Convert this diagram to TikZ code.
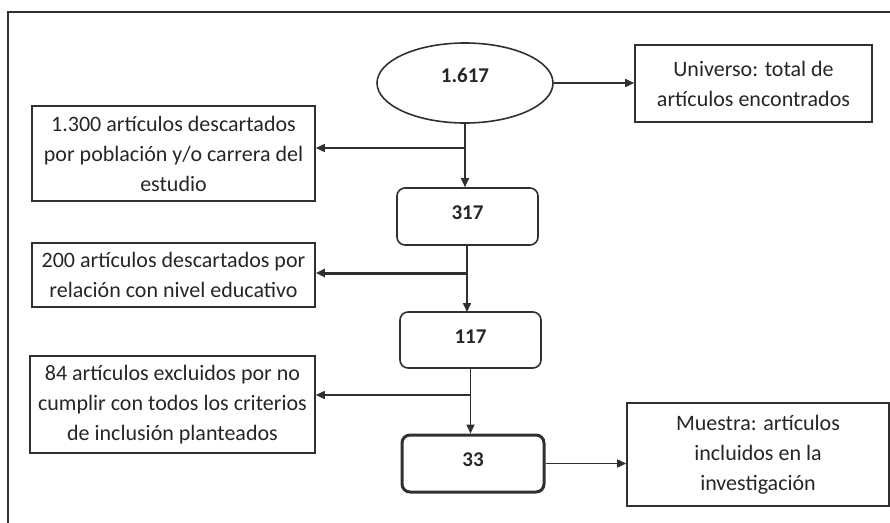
\documentclass[tikz,border=0pt]{standalone}
\usepackage{fontspec}
\setmainfont{Carlito}
\usetikzlibrary{shapes.geometric,arrows.meta}
\definecolor{ln}{HTML}{303030}
\definecolor{tx}{HTML}{262626}
\tikzset{
  txt/.style={font=\fontsize{22}{30}\selectfont, text=tx, align=center, inner sep=0pt},
  sqbox/.style={txt, draw=ln, line width=1.6pt},
  rbox/.style={txt, draw=ln, line width=1.6pt, rounded corners=8pt, font=\fontsize{21}{30}\selectfont\bfseries, text depth=7pt},
  arr/.style={draw=ln, line width=1.6pt, -{Triangle[length=9pt,width=8pt]}},
}
\begin{document}
\begin{tikzpicture}[x=1pt,y=-1pt]
\useasboundingbox (0,0) rectangle (890,522);
% outer frame (cut off at right and bottom)
\draw[ln, line width=1.6pt] (8,540) -- (8,12) -- (900,12);

\node[ellipse, draw=ln, line width=1.6pt, minimum width=176pt, minimum height=80pt, txt, font=\fontsize{21}{30}\selectfont\bfseries, text depth=16pt] (e) at (465,83) {1.617};
\node[sqbox, minimum width=237pt, minimum height=77pt] (bU) at (753.5,83.5) {Universo: total de\\artículos encontrados};
\node[sqbox, minimum width=283pt, minimum height=95pt] (b1300) at (173.5,153.5) {1.300 artículos descartados\\por población y/o carrera del\\estudio};
\node[rbox, minimum width=141pt, minimum height=57pt] (b317) at (467.5,216.5) {317};
\node[sqbox, minimum width=283pt, minimum height=64pt] (b200) at (173.5,275) {200 artículos descartados por\\relación con nivel educativo};
\node[rbox, minimum width=141pt, minimum height=56pt] (b117) at (470.5,340) {117};
\node[sqbox, minimum width=285pt, minimum height=97pt] (b84) at (172.5,404.5) {84 artículos excluidos por no\\cumplir con todos los criterios\\de inclusión planteados};
\node[rbox, line width=3pt, minimum width=142pt, minimum height=57pt] (b33) at (473,463.5) {33};
\node[sqbox, minimum width=262pt, minimum height=103pt] (bM) at (758,454.5) {Muestra: artículos\\incluidos en la\\investigación};

% connectors
\draw[arr] (e.east) -- (e.east -| bU.west);
\draw[arr] (e.south) -- (e.south |- b317.north);
\coordinate (j1) at (464,148);
\draw[arr] (j1) -- (j1 -| b1300.east);
\draw[arr] (467,245) -- (467,312);
\coordinate (j2) at (467,273);
\draw[arr, line width=3pt] (j2) -- (j2 -| b200.east);
\draw[arr] (b117.south) -- (b117.south |- b33.north);
\coordinate (j3) at (471,395);
\draw[arr] (j3) -- (j3 -| b84.east);
\draw[arr] (b33.east) -- (b33.east -| bM.west);
\end{tikzpicture}
\end{document}
